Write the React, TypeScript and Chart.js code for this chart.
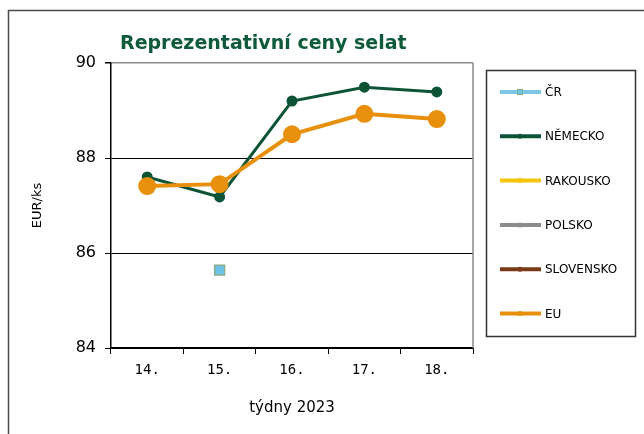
import React, { useEffect, useRef } from 'react';
import { Chart, registerables } from 'chart.js';

Chart.register(...registerables);

const weeks = ['14.', '15.', '16.', '17.', '18.'];
const seriesNames = ['ČR', 'NĚMECKO', 'RAKOUSKO', 'POLSKO', 'SLOVENSKO', 'EU'];
const cr = [null, 85.64, null, null, null];
const nemecko = [87.6, 87.18, 89.2, 89.49, 89.39];
const rakousko = [null, null, null, null, null];
const polsko = [null, null, null, null, null];
const slovensko = [null, null, null, null, null];
const eu = [87.41, 87.45, 88.5, 88.93, 88.82];
const yMin = 84;
const yMax = 90;
const yStep = 2;
const chartTitle = 'Reprezentativní ceny selat';
const xTitle = 'týdny 2023';
const yTitle = 'EUR/ks';

const decorPlugin = {
  id: 'decor',
  beforeDraw(chart: any) {
    const ctx = chart.ctx;
    ctx.save();
    ctx.fillStyle = '#fff';
    ctx.fillRect(0, 0, chart.width, chart.height);
    ctx.restore();
  },
  afterDraw(chart: any) {
    const ctx = chart.ctx;
    const a = chart.chartArea;
    ctx.save();
    // outer frame
    ctx.strokeStyle = '#4a4a4a';
    ctx.lineWidth = 1.5;
    ctx.strokeRect(8.5, 10.5, 800, 600);
    // right border of plot
    ctx.strokeStyle = '#8a8a8a';
    ctx.lineWidth = 1.5;
    ctx.beginPath();
    ctx.moveTo(a.right, a.top);
    ctx.lineTo(a.right, a.bottom);
    ctx.stroke();
    // title
    ctx.fillStyle = '#0f5a3a';
    ctx.font = 'bold 19px "DejaVu Sans"';
    ctx.textBaseline = 'middle';
    ctx.textAlign = 'left';
    ctx.fillText(chartTitle, 120, 44);
    // legend
    ctx.strokeStyle = '#333';
    ctx.lineWidth = 1.5;
    ctx.strokeRect(486.5, 70.5, 149, 266);
    const ds = chart.data.datasets;
    ds.forEach((d: any, i: number) => {
      const y = 92 + i * 44.3;
      ctx.strokeStyle = d.borderColor;
      ctx.lineWidth = 4;
      ctx.beginPath();
      ctx.moveTo(500, y);
      ctx.lineTo(541, y);
      ctx.stroke();
      if (d.pointStyle === 'rect') {
        ctx.fillStyle = d.backgroundColor;
        ctx.strokeStyle = d.pointBorderColor;
        ctx.lineWidth = 1;
        ctx.fillRect(517.5, y - 2.5, 5, 5);
        ctx.strokeRect(517.5, y - 2.5, 5, 5);
      } else {
        ctx.fillStyle = d.borderColor;
        ctx.beginPath();
        ctx.arc(520, y, 2.5, 0, Math.PI * 2);
        ctx.fill();
      }
      ctx.fillStyle = '#000';
      ctx.font = '12px "DejaVu Sans"';
      ctx.textBaseline = 'middle';
      ctx.textAlign = 'left';
      ctx.fillText(d.label, 545, y + 1);
    });
    ctx.restore();
  },
};

export default function App() {
  const ref = useRef<HTMLCanvasElement>(null);
  useEffect(() => {
    if (!ref.current) return;
    const chart = new Chart(ref.current, {
      type: 'line',
      data: {
        labels: weeks,
        datasets: [
          {
            label: seriesNames[0], data: cr, borderColor: '#7cc7e6', backgroundColor: '#6ec3e8',
            pointBackgroundColor: '#6ec3e8', pointBorderColor: '#88ac8c', pointBorderWidth: 1.5,
            pointStyle: 'rect', pointRadius: 7, borderWidth: 3, order: 1,
          },
          {
            label: seriesNames[1], data: nemecko, borderColor: '#0d5436', backgroundColor: '#0d5436',
            pointBackgroundColor: '#0d5436', pointBorderColor: '#0d5436', pointRadius: 4,
            borderWidth: 3, order: 1,
          },
          {
            label: seriesNames[2], data: rakousko, borderColor: '#f5c50a', backgroundColor: '#f5c50a',
            pointRadius: 3, borderWidth: 3, order: 1,
          },
          {
            label: seriesNames[3], data: polsko, borderColor: '#8c8c8c', backgroundColor: '#8c8c8c',
            pointRadius: 3, borderWidth: 3, order: 1,
          },
          {
            label: seriesNames[4], data: slovensko, borderColor: '#7b3a17', backgroundColor: '#7b3a17',
            pointRadius: 3, borderWidth: 3, order: 1,
          },
          {
            label: seriesNames[5], data: eu, borderColor: '#e8900c', backgroundColor: '#e8900c',
            pointBackgroundColor: '#e8900c', pointBorderColor: '#e8900c', pointRadius: 7,
            borderWidth: 4, order: 0,
          },
        ],
      },
      options: {
        responsive: false,
        animation: false,
        devicePixelRatio: 1,
        layout: { padding: { left: 0, top: 63, right: 171, bottom: 0 } },
        plugins: { legend: { display: false }, tooltip: { enabled: false }, title: { display: false } },
        scales: {
          x: {
            type: 'category',
            offset: true,
            grid: { offset: true, drawOnChartArea: false, drawTicks: true, tickLength: 6, color: '#000', tickColor: '#000' },
            border: { color: '#000', width: 1.5 },
            ticks: { font: { family: '"DejaVu Sans Mono"', size: 14 }, color: '#000', padding: 8, maxRotation: 0 },
            title: { display: true, text: xTitle, color: '#000', font: { family: '"DejaVu Sans"', size: 15 }, padding: { top: 0, bottom: 17 } },
            afterFit: (s: any) => { s.height = 86; },
          },
          y: {
            min: yMin,
            max: yMax,
            ticks: { stepSize: yStep, font: { family: '"DejaVu Sans"', size: 16 }, color: '#000', padding: 9 },
            grid: {
              color: (c: any) => (c.tick && c.tick.value === yMax ? '#8a8a8a' : '#000'),
              lineWidth: (c: any) => (c.tick && c.tick.value === yMax ? 1.5 : 1),
              tickColor: '#000', tickLength: 6,
            },
            border: { color: '#000', width: 1.5 },
            title: { display: true, text: yTitle, color: '#000', font: { family: '"DejaVu Sans"', size: 13 }, padding: { top: 30, bottom: 0 } },
            afterFit: (s: any) => { s.width = 111; },
          },
        },
      },
      plugins: [decorPlugin],
    } as any);
    return () => chart.destroy();
  }, []);
  return (
    <div style={{ position: 'fixed', left: 0, top: 0, width: 644, height: 434, background: '#fff' }}>
      <canvas ref={ref} width={644} height={434} style={{ width: 644, height: 434, display: 'block' }} />
    </div>
  );
}
